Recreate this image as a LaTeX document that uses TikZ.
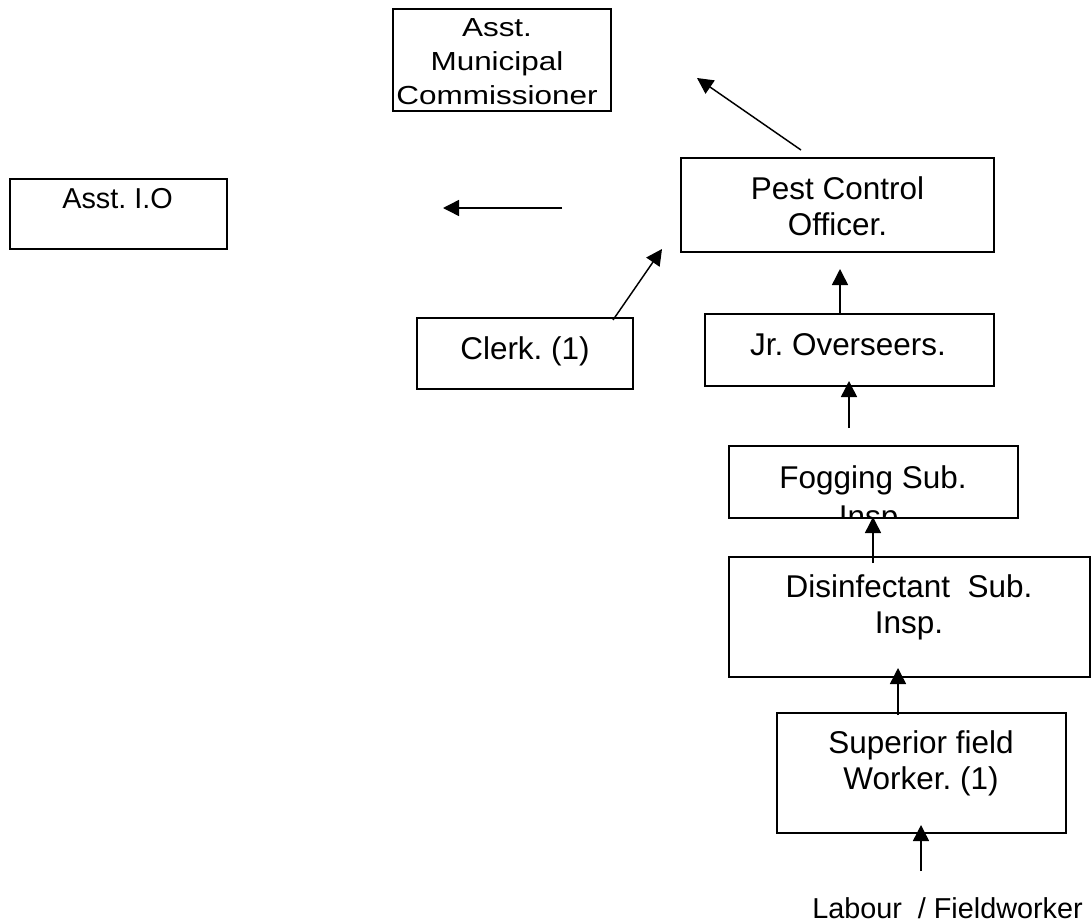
\documentclass[tikz,border=0pt]{standalone}
\usepackage{fontspec}
\setmainfont{Liberation Sans}
\usepackage{graphicx}
\usetikzlibrary{arrows.meta}
\newcommand{\mylines}[1]{\begin{tabular}[t]{@{}c@{}}#1\end{tabular}}
\begin{document}
\frenchspacing
\begin{tikzpicture}[x=0.75pt, y=-0.75pt,
  box/.style={draw, line width=1.3pt, inner sep=0pt, outer sep=0pt},
  txt/.style={inner sep=0pt, anchor=base, font=\fontsize{23.6pt}{27pt}\selectfont\frenchspacing},
  smalltxt/.style={inner sep=0pt, anchor=base, font=\fontsize{21.6pt}{26pt}\selectfont\frenchspacing},
  arr/.style={-{Triangle[length=12pt,width=12pt]}, line width=1.1pt}]
\useasboundingbox (0,0) rectangle (1092,924);
\fill[white] (0,0) rectangle (1092,924);

% boxes
\node[box, minimum width=163.5pt, minimum height=76.5pt] (amc) at (502,60) {};
\node[box, minimum width=162.75pt, minimum height=52.5pt] (aio) at (118.5,214) {};
\node[box, minimum width=234.75pt, minimum height=70.5pt] (pco) at (837.5,205) {};
\node[box, minimum width=162pt, minimum height=53.25pt] (clerk) at (525,353.5) {};
\node[box, minimum width=216.75pt, minimum height=54pt] (jro) at (849.5,350) {};
\node[box, minimum width=216.75pt, minimum height=54pt] (fog) at (873.5,482) {};
\node[box, minimum width=270.75pt, minimum height=90pt] (dis) at (909.5,617) {};
\node[box, minimum width=216.75pt, minimum height=90pt] (sup) at (921.5,773) {};

% texts
\node[inner sep=0pt, anchor=base, font=\fontsize{23.6pt}{30.7pt}\selectfont] (amct) at (497,37)
  {\scalebox{1}[0.83]{\mylines{Asst.\\Municipal\\Commissioner}}};
\node[smalltxt] (aiot) at (117.5,208) {Asst. I.O};
\node[txt] (pcot) at (837.5,199) {\mylines{Pest Control\\Officer.}};
\node[txt] (clerkt) at (525,359) {Clerk. (1)};
\node[txt] (jrot) at (848,355) {Jr. Overseers.};
\begin{scope}
  \clip (729,446) rectangle (1018,516);
  \node[inner sep=0pt, anchor=base, font=\fontsize{23.6pt}{29.3pt}\selectfont\frenchspacing] (fogt) at (873,488) {\mylines{Fogging Sub.\\Insp.}};
\end{scope}
\node[txt] (dist) at (909,597) {\mylines{Disinfectant\ \ Sub.\\Insp.}};
\node[txt] (supt) at (921,753) {\mylines{Superior field\\Worker. (1)}};
\node[smalltxt] (lab) at (947.5,918) {Labour\ \ / Fieldworker};

% connector end points
\coordinate (a1s) at (801,150);
\coordinate (a1e) at (697,78);
\coordinate (a2s) at (562,208);
\coordinate (a2e) at (443,208);
\coordinate (a3s) at (613,320);
\coordinate (a3e) at (662,249);
\coordinate (a4s) at (840,314);
\coordinate (a4e) at (840,269);
\coordinate (a5s) at (849,428);
\coordinate (a5e) at (849,381);
\coordinate (a6s) at (873,563);
\coordinate (a6e) at (873,517);
\coordinate (a7s) at (898,715);
\coordinate (a7e) at (898,668);
\coordinate (a8s) at (921,871);
\coordinate (a8e) at (921,825);

\draw[arr] (a1s) -- (a1e);
\draw[arr] (a2s) -- (a2e);
\draw[arr] (a3s) -- (a3e);
\draw[arr] (a4s) -- (a4e);
\draw[arr] (a5s) -- (a5e);
\draw[arr] (a6s) -- (a6e);
\draw[arr] (a7s) -- (a7e);
\draw[arr] (a8s) -- (a8e);
\end{tikzpicture}
\end{document}
